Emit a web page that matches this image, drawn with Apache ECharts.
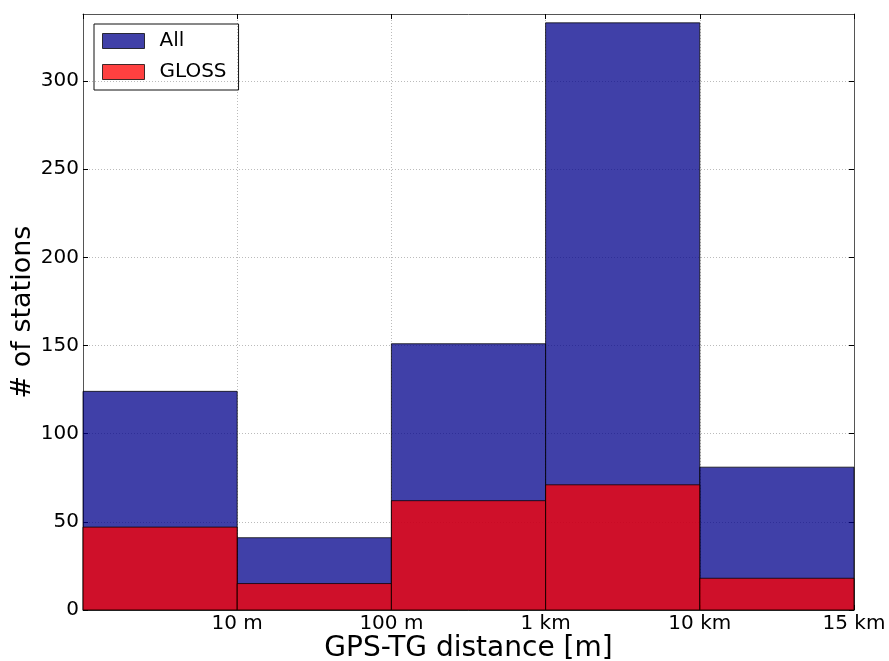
<!DOCTYPE html>
<html>
<head>
<meta charset="utf-8">
<script src="https://cdn.jsdelivr.net/npm/echarts@6/dist/echarts.min.js"></script>
<style>
  html, body { margin: 0; padding: 0; background: #fff; }
  #chart { width: 889px; height: 661px; }
</style>
</head>
<body>
<div id="chart"></div>
<script>
// bin edges (index on the axis) and their labels
var binLabels = ['', '10 m', '100 m', '1 km', '10 km', '15 km'];
var binEdges = [1, 2, 3, 4, 5];
// station counts per bin
var allCounts = [124, 41, 151, 333, 81];
var glossCounts = [47, 15, 62, 71, 18];
// y ticks
var yTicks = [0, 50, 100, 150, 200, 250, 300];

var FONT = 'DejaVu Sans';
var blue = 'rgba(0,0,139,0.75)';
var red = 'rgba(255,0,0,0.75)';

function toBins(vals) {
  return vals.map(function (v, i) { return [i, i + 1, v]; });
}

function renderBin(color) {
  return function (params, api) {
    var p0 = api.coord([api.value(0), api.value(2)]);
    var p1 = api.coord([api.value(1), 0]);
    return {
      type: 'rect',
      shape: { x: p0[0], y: p0[1], width: p1[0] - p0[0], height: p1[1] - p0[1] },
      style: { fill: color, stroke: 'rgba(0,0,0,0.75)', lineWidth: 1 }
    };
  };
}

var frameLine = { show: true, onZero: false, lineStyle: { color: '#555', width: 1 } };
var gridLine = { show: true, lineStyle: { color: '#bbb', type: [1, 2], width: 1 } };

var chart = echarts.init(document.getElementById('chart'));

var option = {
  backgroundColor: '#fff',
  animation: false,
  grid: { left: 83, right: 35, top: 14, bottom: 51, containLabel: false, outerBoundsMode: 'none' },
  legend: {
    orient: 'vertical',
    left: 94,
    top: 24,
    padding: [7, 12, 8, 8],
    itemGap: 11,
    itemWidth: 42,
    itemHeight: 15,
    borderColor: '#111',
    borderWidth: 1,
    borderRadius: 0,
    icon: 'rect',
    textStyle: { fontFamily: FONT, fontSize: 20, color: '#000', padding: [0, 0, 0, 10] },
    data: [
      { name: 'All', itemStyle: { color: blue, borderColor: 'rgba(0,0,0,0.75)', borderWidth: 1 } },
      { name: 'GLOSS', itemStyle: { color: red, borderColor: 'rgba(0,0,0,0.75)', borderWidth: 1 } }
    ]
  },
  xAxis: [{
    type: 'value',
    min: 0,
    max: 5,
    interval: 1,
    name: 'GPS-TG distance [m]',
    nameLocation: 'middle',
    nameGap: 25,
    nameMoveOverlap: false,
    nameTextStyle: { fontFamily: FONT, fontSize: 28, color: '#000' },
    axisLine: frameLine,
    axisTick: { show: true, inside: true, length: 5, lineStyle: { color: '#000' } },
    axisLabel: {
      fontFamily: FONT, fontSize: 20, color: '#000', margin: 4,
      customValues: binEdges,
      formatter: function (v) { return binLabels[v] || ''; }
    },
    splitLine: gridLine
  }, {
    type: 'value',
    position: 'top',
    min: 0,
    max: 5,
    interval: 1,
    axisLine: frameLine,
    axisTick: { show: true, inside: true, length: 5, lineStyle: { color: '#000' } },
    axisLabel: { show: false },
    splitLine: { show: false }
  }],
  yAxis: [{
    type: 'value',
    min: 0,
    max: 338,
    interval: 50,
    name: '# of stations',
    nameLocation: 'middle',
    nameGap: 47,
    nameMoveOverlap: false,
    nameTextStyle: { fontFamily: FONT, fontSize: 27, color: '#000' },
    axisLine: frameLine,
    axisTick: { show: true, inside: true, length: 5, lineStyle: { color: '#000' }, customValues: yTicks },
    axisLabel: {
      fontFamily: FONT, fontSize: 20, color: '#000', margin: 4,
      customValues: yTicks
    },
    splitLine: gridLine
  }, {
    type: 'value',
    position: 'right',
    min: 0,
    max: 338,
    interval: 50,
    axisLine: frameLine,
    axisTick: { show: true, inside: true, length: 5, lineStyle: { color: '#000' }, customValues: yTicks },
    axisLabel: { show: false },
    splitLine: { show: false }
  }],
  series: [{
    name: 'All',
    type: 'custom',
    xAxisIndex: 0,
    yAxisIndex: 0,
    itemStyle: { color: blue },
    renderItem: renderBin(blue),
    encode: { x: [0, 1], y: 2 },
    data: toBins(allCounts),
    z: 2
  }, {
    name: 'GLOSS',
    type: 'custom',
    xAxisIndex: 0,
    yAxisIndex: 0,
    itemStyle: { color: red },
    renderItem: renderBin(red),
    encode: { x: [0, 1], y: 2 },
    data: toBins(glossCounts),
    z: 3
  }]
};

chart.setOption(option);
</script>
</body>
</html>
